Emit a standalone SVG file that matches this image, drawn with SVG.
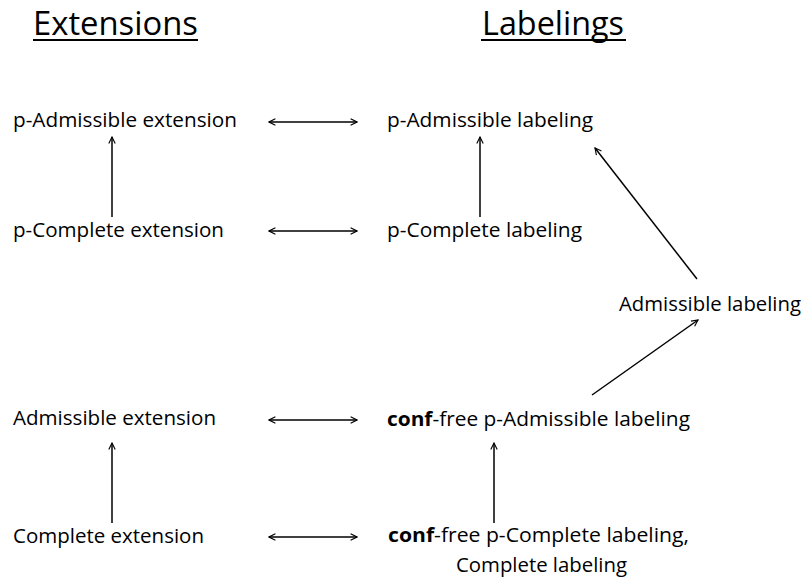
<svg xmlns="http://www.w3.org/2000/svg" width="805" height="580" viewBox="0 0 805 580">
<style>
text{font-family:"Open Sans","Liberation Sans",sans-serif;fill:#000}
.t{font-size:32px}
.n{font-size:19.5px}
.b{font-weight:bold}
.c line{stroke:#000;stroke-width:1.5;fill:none}
.ul{stroke:#000;stroke-width:2}
</style>
<defs>
<marker id="ah" viewBox="0 0 10 10" refX="9" refY="5" markerWidth="8" markerHeight="8" markerUnits="userSpaceOnUse" orient="auto-start-reverse">
<path d="M1,1 L9,5 L1,9" fill="none" stroke="#000" stroke-width="1.4"/>
</marker>
</defs>
<g id="title-extensions">
<text class="t" x="33" y="35" textLength="165" lengthAdjust="spacingAndGlyphs">Extensions</text>
<line class="ul" x1="33" y1="40" x2="198" y2="40"/>
</g>
<g id="title-labelings">
<text class="t" x="482" y="35" textLength="142" lengthAdjust="spacingAndGlyphs">Labelings</text>
<line class="ul" x1="481" y1="40" x2="626" y2="40"/>
</g>
<g id="p-adm-ext"><text class="n" x="13" y="127" textLength="224" lengthAdjust="spacingAndGlyphs">p-Admissible extension</text></g>
<g id="p-comp-ext"><text class="n" x="13" y="237" textLength="211" lengthAdjust="spacingAndGlyphs">p-Complete extension</text></g>
<g id="adm-ext"><text class="n" x="13" y="425" textLength="203" lengthAdjust="spacingAndGlyphs">Admissible extension</text></g>
<g id="comp-ext"><text class="n" x="13" y="543" textLength="191" lengthAdjust="spacingAndGlyphs">Complete extension</text></g>
<g id="p-adm-lab"><text class="n" x="387" y="127" textLength="206" lengthAdjust="spacingAndGlyphs">p-Admissible labeling</text></g>
<g id="p-comp-lab"><text class="n" x="387" y="237" textLength="195" lengthAdjust="spacingAndGlyphs">p-Complete labeling</text></g>
<g id="adm-lab"><text class="n" x="619" y="311" textLength="182" lengthAdjust="spacingAndGlyphs">Admissible labeling</text></g>
<g id="cf-p-adm-lab"><text class="n" x="387" y="426" textLength="303" lengthAdjust="spacingAndGlyphs"><tspan class="b">conf</tspan>-free p-Admissible labeling</text></g>
<g id="cf-p-comp-lab">
<text class="n" x="388" y="542" textLength="301" lengthAdjust="spacingAndGlyphs"><tspan class="b">conf</tspan>-free p-Complete labeling,</text>
<text class="n" x="456" y="572" textLength="171" lengthAdjust="spacingAndGlyphs">Complete labeling</text>
</g>
<g id="connectors" class="c">
<line x1="269" y1="122" x2="357" y2="122" marker-start="url(#ah)" marker-end="url(#ah)"/>
<line x1="269" y1="231" x2="357" y2="231" marker-start="url(#ah)" marker-end="url(#ah)"/>
<line x1="269" y1="420" x2="357" y2="420" marker-start="url(#ah)" marker-end="url(#ah)"/>
<line x1="269" y1="537" x2="357" y2="537" marker-start="url(#ah)" marker-end="url(#ah)"/>
<line x1="112" y1="217" x2="112" y2="137" marker-end="url(#ah)"/>
<line x1="480" y1="217" x2="480" y2="137" marker-end="url(#ah)"/>
<line x1="112" y1="523" x2="112" y2="443" marker-end="url(#ah)"/>
<line x1="494" y1="523" x2="494" y2="443" marker-end="url(#ah)"/>
<line x1="697" y1="279" x2="595" y2="148" marker-end="url(#ah)"/>
<line x1="592" y1="395" x2="698" y2="320" marker-end="url(#ah)"/>
</g>
</svg>
